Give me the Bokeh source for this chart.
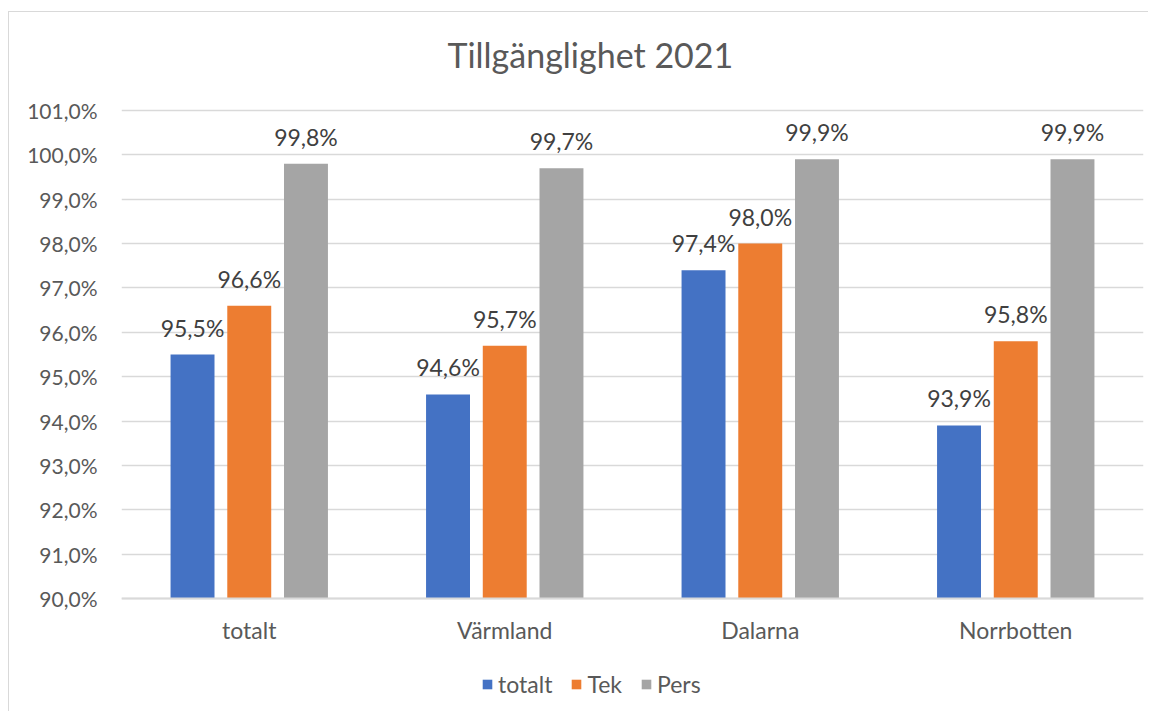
from bokeh.plotting import figure
from bokeh.models import (ColumnDataSource, FactorRange, Range1d, FixedTicker, Span,
                          CustomJSTickFormatter, LabelSet, Label, Legend, LegendItem)
from bokeh.core.properties import value
from bokeh.transform import dodge
from bokeh.embed import file_html
from bokeh.resources import INLINE

categories = ["totalt", "Värmland", "Dalarna", "Norrbotten"]
series_names = ["totalt", "Tek", "Pers"]
totalt = [95.5, 94.6, 97.4, 93.9]
tek = [96.6, 95.7, 98.0, 95.8]
pers = [99.8, 99.7, 99.9, 99.9]
y_ticks = [90, 91, 92, 93, 94, 95, 96, 97, 98, 99, 100, 101]
title_text = "Tillgänglighet 2021"

colors = ["#4472C4", "#ED7D31", "#A5A5A5"]
FONT = "Lato"
TXT = "#595959"
BASE = 90.0


def fmt(v):
    return ("%.1f" % v).replace(".", ",") + "%"


src = ColumnDataSource(dict(
    x=categories, totalt=totalt, tek=tek, pers=pers,
    base=[BASE] * len(categories),
    l_totalt=[fmt(v) for v in totalt],
    l_tek=[fmt(v) for v in tek],
    l_pers=[fmt(v) for v in pers],
))

MT, ML = 11, 8          # page offset of the chart box
W, H = 1140, 700
TOP_B = 15
PX_PER_UNIT = 44.36
y_top = BASE + (597 - MT - TOP_B) / PX_PER_UNIT
y_bot = BASE - (MT + H - 597) / PX_PER_UNIT
p = figure(x_range=FactorRange(*categories), y_range=Range1d(y_bot, y_top),
           width=W, height=H, output_backend="svg", toolbar_location=None,
           x_axis_location=None,
           min_border_left=120 - ML, min_border_right=6, min_border_top=TOP_B,
           min_border_bottom=0)
p.styles = {"border-left": "1px solid #d9d9d9", "border-top": "1px solid #d9d9d9",
            "box-sizing": "border-box", "margin-left": "%dpx" % ML,
            "margin-top": "%dpx" % MT}
p.outline_line_color = None
p.background_fill_color = "white"
p.border_fill_color = "white"

cols = ["totalt", "tek", "pers"]
offsets = [-0.222, 0.0, 0.222]
renderers = []
for c, off, col in zip(cols, offsets, colors):
    r = p.vbar(x=dodge("x", off, range=p.x_range), top=c, bottom=BASE, width=0.172,
               source=src, fill_color=col, line_color=None)
    renderers.append(r)
    p.add_layout(LabelSet(x=dodge("x", off, range=p.x_range), y=c, text="l_" + c,
                          source=src, text_align="center", text_baseline="middle",
                          y_offset=27, text_font=value(FONT), text_font_size="23px",
                          text_color="#404040"))

# category labels (x axis)
p.add_layout(LabelSet(x="x", y="base", text="x", source=src, text_align="center",
                      text_baseline="middle", y_offset=-31, text_font=value(FONT),
                      text_font_size="23px", text_color=TXT))
p.add_layout(Span(location=BASE, dimension="width", line_color="#d9d9d9", line_width=2))

p.yaxis.ticker = FixedTicker(ticks=y_ticks)
p.yaxis.formatter = CustomJSTickFormatter(
    code="return tick.toFixed(1).replace('.', ',') + '%';")
p.yaxis.axis_line_color = None
p.yaxis.major_tick_line_color = None
p.yaxis.minor_tick_line_color = None
p.yaxis.major_label_standoff = 18
p.yaxis.major_label_text_font = FONT
p.yaxis.major_label_text_font_size = "21px"
p.yaxis.major_label_text_color = TXT

p.xgrid.grid_line_color = None
p.ygrid.grid_line_color = "#d9d9d9"
p.ygrid.grid_line_width = 1.5

p.add_layout(Label(x=1.835, y=102.27, text=title_text, text_align="center",
                   text_baseline="middle", text_font=FONT, text_font_size="34px",
                   text_color=TXT))

legend = Legend(items=[LegendItem(label=n, renderers=[r]) for n, r in zip(series_names, renderers)],
                orientation="horizontal", location=(360, 14),
                label_text_font=FONT, label_text_font_size="23px",
                label_text_color=TXT, glyph_width=12, glyph_height=12,
                label_standoff=5, spacing=18, padding=0, margin=0,
                border_line_color=None, background_fill_alpha=0)
p.add_layout(legend, "center")

open("out.html", "w").write(file_html(p, INLINE))
